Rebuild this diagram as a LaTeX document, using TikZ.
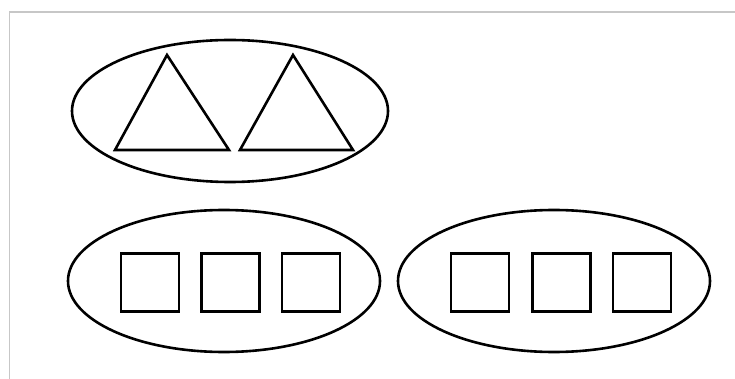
\documentclass[tikz,border=0pt]{standalone}
\usetikzlibrary{shapes.geometric}
\begin{document}
\begin{tikzpicture}[x=1pt,y=-1pt,
  frameline/.style={draw=black!22,line width=1.2pt},
  group/.style={draw,ellipse,line width=2.6pt,inner sep=0pt,minimum width=312pt,minimum height=142pt},
  sq/.style={draw,rectangle,line width=2.8pt,inner sep=0pt,minimum width=58pt,minimum height=58pt},
  tri/.style={draw,line width=2.6pt,line join=miter}]
\useasboundingbox (0,0) rectangle (735,379);
\fill[white] (0,0) rectangle (735,379);
\coordinate (f1) at (735,12);
\coordinate (f2) at (9.5,12);
\coordinate (f3) at (9.5,379);
\draw[frameline] (f1) -- (f2) -- (f3);
% top ellipse with triangles
\node[group,minimum width=316pt] (top) at (230,111) {};
\coordinate (t1a) at (167,55);
\coordinate (t1b) at (229,150);
\coordinate (t1c) at (115,150);
\draw[tri] (t1a) -- (t1b) -- (t1c) -- cycle;
\coordinate (t2a) at (293,55);
\coordinate (t2b) at (353,150);
\coordinate (t2c) at (240,150);
\draw[tri] (t2a) -- (t2b) -- (t2c) -- cycle;
% bottom left
\node[group] (bl) at (224,281) {};
\node[sq] (s1) at (150,282.5) {};
\node[sq] (s2) at (230.5,282.5) {};
\node[sq] (s3) at (311,282.5) {};
% bottom right
\node[group] (br) at (554,281) {};
\node[sq] (s4) at (480,282.5) {};
\node[sq] (s5) at (561.5,282.5) {};
\node[sq] (s6) at (642,282.5) {};
\end{tikzpicture}
\end{document}
